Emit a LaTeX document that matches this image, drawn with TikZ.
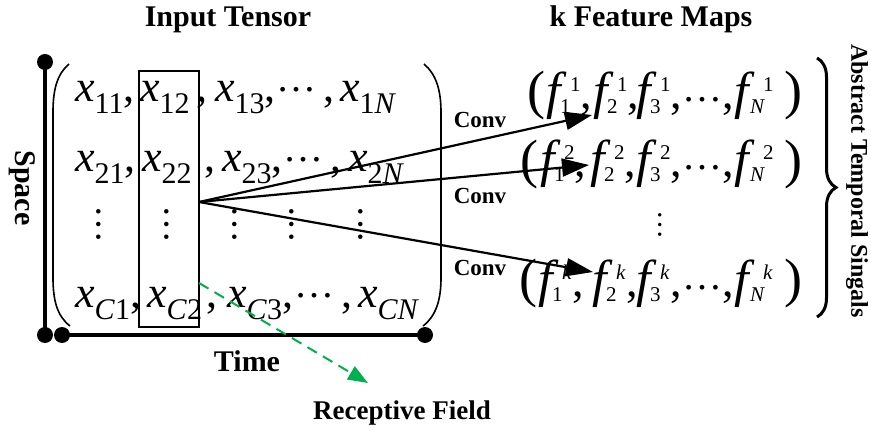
\documentclass[tikz,border=0pt]{standalone}
\usepackage{fontspec}
\setmainfont{Liberation Serif}
\usetikzlibrary{arrows.meta,decorations.pathreplacing}

% sizes used for the math-like entries
\newcommand\bigmath{\fontsize{44}{44}\selectfont}
\newcommand\fmath{\fontsize{46}{46}\selectfont}
\newcommand\fletter{{\fontsize{52}{52}\selectfont\itshape f}}
\newcommand\xsub{\fontsize{30}{30}\selectfont}
\newcommand\fscr{\fontsize{21}{21}\selectfont}
\newcommand\parfont{\fontsize{54}{54}\selectfont}
% x with a subscript
\newcommand\xv[1]{\textit{x}\raisebox{-12pt}{\xsub #1}}
% f with a subscript and a superscript
\newcommand\fv[2]{\makebox[34pt][l]{\rlap{\fletter}\hspace{14pt}\rlap{\raisebox{-5pt}{\fscr #1}}\hspace{10pt}\raisebox{17pt}{\fscr #2}}}
% f with subscript N
\newcommand\fvN[1]{\rlap{\fletter}\hspace{16pt}\rlap{\raisebox{-5pt}{\fscr\textit{N}}}\hspace{13pt}\raisebox{17pt}{\fscr #1}}
% centred horizontal dots, raised by the given amount
\newcommand\hd[1]{\raisebox{#1}{\fontsize{40}{40}\selectfont …}}

\definecolor{rfgreen}{RGB}{0,176,80}
\tikzset{
  ent/.style={anchor=base west, inner sep=0pt, font=\bigmath},
  fent/.style={anchor=base west, inner sep=0pt, font=\fmath},
  vdot/.style={anchor=base, inner sep=0pt, rotate=90, font=\fontsize{38}{38}\selectfont},
  paren/.style={anchor=base west, inner sep=0pt, font=\parfont},
  lab/.style={inner sep=0pt, font=\bfseries\fontsize{30}{30}\selectfont},
  convlab/.style={inner sep=0pt, font=\bfseries\fontsize{23}{23}\selectfont},
  axisline/.style={line width=4.5pt},
  axisdot/.style={circle, fill=black, inner sep=0pt, minimum size=16pt},
  convarrow/.style={line width=2.2pt, -{Triangle[length=27pt,width=18pt]}},
  rfarrow/.style={draw=rfgreen, line width=2pt, dash pattern=on 11pt off 7pt,
    -{Triangle[length=20pt,width=15pt,fill=rfgreen]}},
}

\begin{document}
\begin{tikzpicture}[x=1pt, y=-1pt]
\useasboundingbox (0,0) rectangle (871,430);

% titles
\node[lab, anchor=base] (tin) at (228,27) {Input Tensor};
\node[lab, anchor=base] (tfm) at (651,27) {k Feature Maps};

% space / time axes
\node[axisdot] (sp1) at (45,62) {};
\node[axisdot] (sp2) at (45,335) {};
\node[axisdot] (tm1) at (62,335) {};
\node[axisdot] (tm2) at (425,335) {};
\draw[axisline] (sp1.center) -- (sp2.center);
\draw[axisline] (tm1.center) -- (tm2.center);
\node[lab, rotate=-90] (space) at (22,188) {Space};
\node[lab, anchor=base] (time) at (247,372) {Time};

% big brackets round the input tensor
\draw[line width=1.6pt] (69,64) .. controls (57,74) and (53,90) .. (53,112)
  -- (53,278) .. controls (53,300) and (57,316) .. (70,326);
\draw[line width=1.6pt] (424,64) .. controls (436,74) and (441,90) .. (441,112)
  -- (441,278) .. controls (441,300) and (436,316) .. (423,326);

% row 1
\node[ent] (x11) at (75,102) {\xv{11},};
\node[ent] (x12) at (140,102) {\xv{12}};
\node[ent] (c12) at (196,102) {,};
\node[ent] (x13) at (215,102) {\xv{13},};
\node[ent] (d1)  at (276,102) {\hd{10pt}\hspace{7pt},};
\node[ent] (x1N) at (340,102) {\xv{1\textit{N}}};
% row 2
\node[ent] (x21) at (75,172) {\xv{21},};
\node[ent] (x22) at (142,172) {\xv{22}};
\node[ent] (c22) at (204,172) {,};
\node[ent] (x23) at (222,172) {\xv{23},};
\node[ent] (d2)  at (283,172) {\hd{10pt}\hspace{7pt},};
\node[ent] (x2N) at (348,172) {\xv{2\textit{N}}};
% vertical dots
\node[vdot] (v1) at (100,225) {…};
\node[vdot] (v2) at (168,225) {…};
\node[vdot] (v3) at (236,225) {…};
\node[vdot] (v4) at (293,225) {…};
\node[vdot] (v5) at (362,225) {…};
% row C
\node[ent] (xC1) at (75,308) {\xv{\textit{C}1},};
\node[ent] (xC2) at (147,308) {\xv{\textit{C}2}};
\node[ent] (cC2) at (206,308) {,};
\node[ent] (xC3) at (227,308) {\xv{\textit{C}3},};
\node[ent] (dC)  at (294,308) {\hd{10pt}\hspace{7pt},};
\node[ent] (xCN) at (358,308) {\xv{\textit{CN}}};

% receptive field window
\node[draw, line width=2pt, minimum width=60pt, minimum height=256pt, inner sep=0pt] (rf) at (169,199) {};

% feature map 1
\node[paren] (p1l) at (527,109) {(};
\node[fent] (f11) at (546,109) {\fv{1}{1},};
\node[fent] (f21) at (593,109) {\fv{2}{1},};
\node[fent] (f31) at (636,109) {\fv{3}{1},};
\node[fent] (fd1) at (682,109) {\hd{7pt},};
\node[fent] (fN1) at (734,109) {\fvN{1}};
\node[paren] (p1r) at (784,109) {)};
% feature map 2
\node[paren] (p2l) at (520,178) {(};
\node[fent] (f12) at (540,177) {\fv{1}{2},};
\node[fent] (f22) at (590,177) {\fv{2}{2},};
\node[fent] (f32) at (636,177) {\fv{3}{2},};
\node[fent] (fd2) at (682,177) {\hd{7pt},};
\node[fent] (fN2) at (734,177) {\fvN{2}};
\node[paren] (p2r) at (784,178) {)};
% vertical dots between the maps
\node[vdot, font=\fontsize{29}{29}\selectfont] (fv) at (661,225) {…};
% feature map k
\node[paren] (pkl) at (519,297) {(};
\node[fent] (f1k) at (538,297) {\fv{1}{\textit{k}},};
\node[fent] (f2k) at (592,297) {\fv{2}{\textit{k}},};
\node[fent] (f3k) at (636,297) {\fv{3}{\textit{k}},};
\node[fent] (fdk) at (682,297) {\hd{7pt},};
\node[fent] (fNk) at (734,297) {\fvN{\textit{k}}};
\node[paren] (pkr) at (784,297) {)};

% convolution arrows
\coordinate (src) at (199,202);
\coordinate (tip1) at (592,115);
\coordinate (tip2) at (589,165);
\coordinate (tip3) at (593,272);
\draw[convarrow] (src) -- (tip1);
\draw[convarrow] (src) -- (tip2);
\draw[convarrow] (src) -- (tip3);
\node[convlab] (conv1) at (480,120) {Conv};
\node[convlab] (conv2) at (480,196) {Conv};
\node[convlab] (conv3) at (480,268) {Conv};

% receptive field pointer
\coordinate (rfs) at (199,283);
\coordinate (rft) at (368,383);
\draw[rfarrow] (rfs) -- (rft);
\node[lab, anchor=base, font=\bfseries\fontsize{27}{27}\selectfont] (rflab) at (402,420) {Receptive Field};

% brace over the feature maps
\coordinate (br1) at (817,58);
\coordinate (br2) at (817,317);
\draw[decorate, decoration={brace, amplitude=19pt}, line width=3pt] (br1) -- (br2);
\node[inner sep=0pt, rotate=-90, font=\bfseries\fontsize{24}{24}\selectfont] (ats) at (857,181) {Abstract Temporal Singals};
\end{tikzpicture}
\end{document}
